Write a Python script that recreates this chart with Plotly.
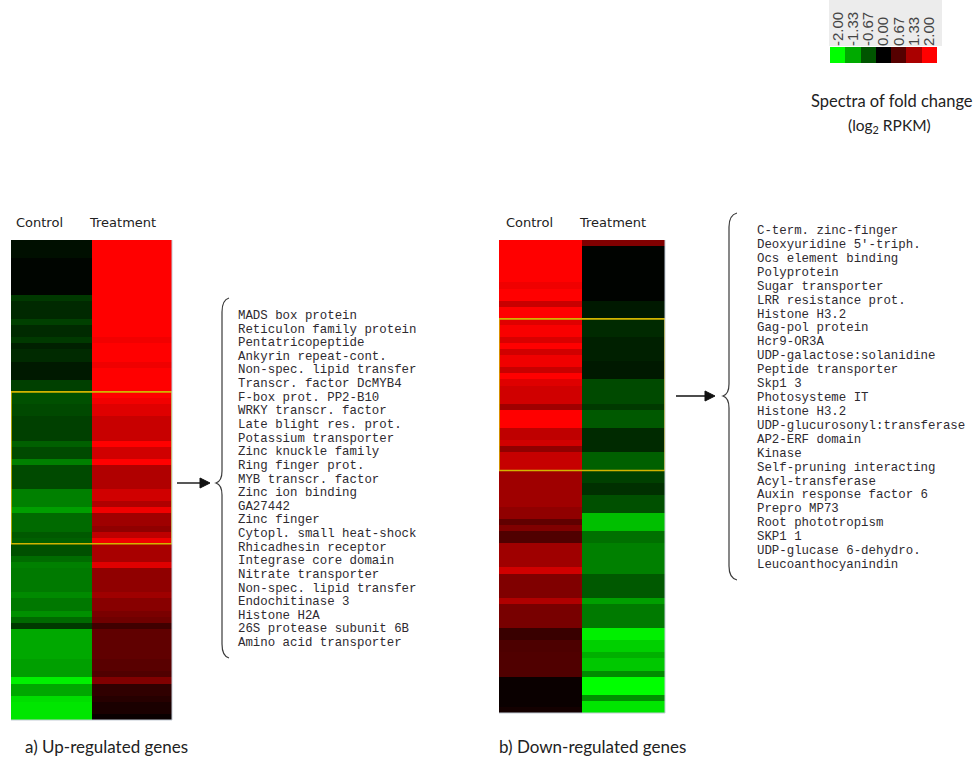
import plotly.graph_objects as go

# ---- data -------------------------------------------------------------
COLUMNS = ["Control", "Treatment"]

# log2 fold change per gene row (top to bottom), up-regulated panel
UP_CONTROL = [
    -0.12, -0.12, -0.12, -0.04, -0.04, -0.04, -0.04, -0.04, -0.04,
    -0.45, -0.32, -0.32, -0.32, -0.50, -0.33, -0.33, -0.45, -0.25, -0.33,
    -0.33, -0.20, -0.20, -0.20, -0.50, -0.50,
    -0.63, -0.63, -0.57, -0.57, -0.50, -0.50, -0.50, -0.50, -0.75, -0.58,
    -0.58, -1.00, -0.58, -0.58, -0.58, -0.58, -1.00, -1.00, -1.00, -1.25,
    -0.83, -0.83, -0.83, -0.70, -0.75,
    -0.63, -0.63, -0.85, -1.00, -0.96, -0.96, -0.96, -0.96, -1.08, -0.94,
    -0.94, -1.13, -0.83, -0.45, -1.32, -1.32, -1.32, -1.32, -1.32, -1.25,
    -1.25, -1.25, -1.90, -1.32, -1.32, -1.75, -1.80, -1.80, -1.80,
]
UP_TREATMENT = [
    2.0, 2.0, 2.0, 2.0, 2.0, 2.0, 2.0, 2.0, 2.0, 2.0, 2.0, 2.0, 2.0, 2.0, 2.0, 2.0,
    1.90, 2.0, 2.0, 2.0, 1.88, 2.0, 2.0, 2.0, 2.0,
    2.0, 1.90, 1.75, 1.75, 1.57, 1.57, 1.57, 1.57, 2.0, 1.63,
    1.63, 2.0, 1.38, 1.38, 1.38, 1.38, 1.63, 1.63, 1.38, 1.88,
    1.25, 1.25, 1.13, 1.50, 1.88,
    1.32, 1.32, 1.32, 1.75, 1.13, 1.13, 1.13, 1.13, 1.25, 1.07,
    1.07, 0.96, 0.88, 0.50, 0.75, 0.75, 0.75, 0.75, 0.75, 0.70,
    0.70, 0.63, 1.00, 0.38, 0.38, 0.30, 0.20, 0.20, 0.07,
]

# down-regulated panel
DOWN_CONTROL = [
    2.0, 2.0, 2.0, 2.0, 2.0, 2.0, 2.0, 1.88, 2.0, 2.0,
    1.57, 2.0, 2.0, 1.75, 1.95, 1.95, 1.70, 2.0, 1.63, 1.88,
    1.88, 1.57, 2.0, 1.75, 1.63, 1.63, 1.63, 1.25, 2.0, 2.0,
    2.0, 1.50, 1.50, 1.63, 1.13, 1.55, 1.55, 1.55, 1.25, 1.25,
    1.25, 1.25, 1.25, 1.25, 1.13, 1.13, 0.75, 1.00, 0.63, 0.63,
    1.25, 1.25, 1.25, 1.25, 1.63, 1.00, 1.00, 1.00, 1.00, 1.38,
    0.94, 0.94, 0.94, 0.94, 0.45, 0.45, 0.60, 0.60, 0.63, 0.63,
    0.63, 0.63, 0.08, 0.08, 0.08, 0.08, 0.08, 0.15,
]
DOWN_TREATMENT = [
    1.00, -0.02, -0.02, -0.02, -0.02, -0.02, -0.02, -0.02, -0.02, -0.02,
    -0.20, -0.20, -0.20, -0.33, -0.33, -0.33, -0.25, -0.25, -0.25, -0.25,
    -0.20, -0.20, -0.20, -0.58, -0.58, -0.58, -0.58, -0.45, -0.70, -0.70,
    -0.70, -0.33, -0.33, -0.33, -0.33, -0.75, -0.75, -0.75, -0.50, -0.50,
    -0.38, -0.38, -0.63, -0.63, -0.63, -1.50, -1.50, -1.50, -0.88, -0.88,
    -1.00, -1.00, -1.00, -1.00, -1.00, -0.70, -0.70, -0.70, -0.70, -1.25,
    -0.96, -0.96, -0.96, -0.96, -1.88, -1.88, -1.63, -1.63, -1.38, -1.57,
    -1.57, -1.10, -2.00, -2.00, -2.00, -1.13, -1.80, -1.80,
]

# highlighted block (first row index, number of rows) in each panel
UP_BLOCK = (25, 25)
DOWN_BLOCK = (13, 25)

UP_GENES = [
    "MADS box protein", "Reticulon family protein", "Pentatricopeptide",
    "Ankyrin repeat-cont.", "Non-spec. lipid transfer", "Transcr. factor DcMYB4",
    "F-box prot. PP2-B10", "WRKY transcr. factor", "Late blight res. prot.",
    "Potassium transporter", "Zinc knuckle family", "Ring finger prot.",
    "MYB transcr. factor", "Zinc ion binding", "GA27442", "Zinc finger",
    "Cytopl. small heat-shock", "Rhicadhesin receptor", "Integrase core domain",
    "Nitrate transporter", "Non-spec. lipid transfer", "Endochitinase 3",
    "Histone H2A", "26S protease subunit 6B", "Amino acid transporter",
]
DOWN_GENES = [
    "C-term. zinc-finger", "Deoxyuridine 5'-triph.", "Ocs element binding",
    "Polyprotein", "Sugar transporter", "LRR resistance prot.", "Histone H3.2",
    "Gag-pol protein", "Hcr9-OR3A", "UDP-galactose:solanidine",
    "Peptide transporter", "Skp1 3", "Photosysteme IT", "Histone H3.2",
    "UDP-glucurosonyl:transferase", "AP2-ERF domain", "Kinase",
    "Self-pruning interacting", "Acyl-transferase", "Auxin response factor 6",
    "Prepro MP73", "Root phototropism", "SKP1 1", "UDP-glucase 6-dehydro.",
    "Leucoanthocyanindin",
]

SCALE_VALUES = [-2.00, -1.33, -0.67, 0.00, 0.67, 1.33, 2.00]
SCALE_LABELS = ["-2.00", "-1.33", "-0.67", "0.00", "0.67", "1.33", "2.00"]

# ---- layout helpers -----------------------------------------------------
W, H = 977, 773


def px(x):
    return x / W


def py(y):
    return 1 - y / H


GREEN_BLACK_RED = [[0.0, "rgb(0,255,0)"], [0.5, "rgb(0,0,0)"], [1.0, "rgb(255,0,0)"]]
TEXT = "#2e2a30"
HUMANIST = "Lato, Open Sans, sans-serif"

fig = go.Figure()


def panel_heatmap(ctrl, treat, xa, ya):
    return go.Heatmap(
        z=[[c, t] for c, t in zip(ctrl, treat)],
        x=[0, 1],
        y=list(range(len(ctrl))),
        colorscale=GREEN_BLACK_RED, zmin=-2, zmax=2,
        showscale=False, hoverinfo="skip",
        xaxis=xa, yaxis=ya,
    )


fig.add_trace(panel_heatmap(UP_CONTROL, UP_TREATMENT, "x", "y"))
fig.add_trace(panel_heatmap(DOWN_CONTROL, DOWN_TREATMENT, "x2", "y2"))

# colour key
fig.add_trace(go.Heatmap(
    z=[SCALE_VALUES], x=list(range(len(SCALE_VALUES))), y=[0],
    colorscale=GREEN_BLACK_RED, zmin=-2, zmax=2,
    showscale=False, hoverinfo="skip", xaxis="x3", yaxis="y3",
))

hidden = dict(visible=False, showgrid=False, zeroline=False, fixedrange=True)

fig.update_layout(
    width=W, height=H,
    margin=dict(l=0, r=0, t=0, b=0),
    paper_bgcolor="white", plot_bgcolor="white",
    showlegend=False,
    xaxis=dict(domain=[px(11), px(172)], range=[-0.5, 1.5], anchor="y", **hidden),
    yaxis=dict(domain=[py(720), py(240)], range=[len(UP_CONTROL) - 0.5, -0.5],
               anchor="x", **hidden),
    xaxis2=dict(domain=[px(499), px(665)], range=[-0.5, 1.5], anchor="y2", **hidden),
    yaxis2=dict(domain=[py(713), py(240)], range=[len(DOWN_CONTROL) - 0.5, -0.5],
                anchor="x2", **hidden),
    xaxis3=dict(domain=[px(830), px(937)], range=[-0.5, len(SCALE_VALUES) - 0.5],
                anchor="y3", side="top", tickmode="array",
                tickvals=list(range(len(SCALE_VALUES))), ticktext=SCALE_LABELS,
                tickangle=-90, ticks="", showgrid=False, zeroline=False,
                showline=False, fixedrange=True, automargin=False,
                tickfont=dict(family="Liberation Sans, Arial, sans-serif",
                              size=15, color="#444")),
    yaxis3=dict(domain=[py(63), py(47)], anchor="x3", **hidden),
)

shapes = []
# grey panel behind the colour-key labels
shapes.append(dict(type="rect", xref="paper", yref="paper",
                   x0=px(829), x1=px(942), y0=py(46), y1=py(0),
                   fillcolor="#ececec", line=dict(width=0), layer="below"))

# highlighted blocks
for (start, n), xa, ya in [(UP_BLOCK, "x", "y"), (DOWN_BLOCK, "x2", "y2")]:
    shapes.append(dict(type="rect", xref=xa, yref=ya,
                       x0=-0.5, x1=1.5, y0=start - 0.5, y1=start + n - 0.5,
                       line=dict(color="#d2b400", width=1.6)))

# faint frame on right and bottom of each heat map
for x0, x1, y0, y1 in [(11, 172, 240, 720), (499, 665, 240, 713)]:
    shapes.append(dict(type="path", xref="paper", yref="paper",
                       path=f"M {px(x1)} {py(y0)} L {px(x1)} {py(y1)} L {px(x0)} {py(y1)}",
                       line=dict(color="#c4ccd6", width=1)))


def to_path(pts):
    parts = []
    for cmd, *coords in pts:
        parts.append(cmd + " " + " ".join(f"{px(a):.5f},{py(b):.5f}" for a, b in coords))
    return " ".join(parts)


def brace(xt, x_line, x_tip, y_top, y_mid, y_bot):
    return to_path([
        ("M", (xt, y_top)),
        ("Q", (x_line, y_top + 2), (x_line, y_top + 14)),
        ("L", (x_line, y_mid - 12)),
        ("Q", (x_line, y_mid - 2), (x_tip, y_mid)),
        ("Q", (x_line, y_mid + 2), (x_line, y_mid + 12)),
        ("L", (x_line, y_bot - 14)),
        ("Q", (x_line, y_bot - 2), (xt, y_bot)),
    ])


for args in [(229, 222, 216, 298, 483, 658), (737, 729, 723, 213, 396, 580)]:
    shapes.append(dict(type="path", xref="paper", yref="paper", path=brace(*args),
                       line=dict(color="#3a3a3a", width=1.2)))

# arrows pointing to the braces
for x_tail, x_head, y in [(177, 210, 483), (676, 715, 396)]:
    shapes.append(dict(type="line", xref="paper", yref="paper",
                       x0=px(x_tail), x1=px(x_head - 6), y0=py(y), y1=py(y),
                       line=dict(color="#111", width=1.4)))
    shapes.append(dict(type="path", xref="paper", yref="paper",
                       path=to_path([("M", (x_head - 10, y - 5)), ("L", (x_head, y)),
                                     ("L", (x_head - 10, y + 5))]) + " Z",
                       fillcolor="#111", line=dict(color="#111", width=1)))

fig.update_layout(shapes=shapes)

ann = []
# column headers
for centres in [(39, 123), (529, 612)]:
    for name, cx in zip(COLUMNS, centres):
        ann.append(dict(text=name, xref="paper", yref="paper", x=px(cx), y=py(222),
                        showarrow=False, xanchor="center", yanchor="middle",
                        font=dict(family="DejaVu Sans, sans-serif", size=13, color="#222")))

# gene labels
for genes, x0, y0, dy, size in [(UP_GENES, 236, 316, 13.625, 12.4),
                                (DOWN_GENES, 755, 231, 13.92, 12.4)]:
    for i, g in enumerate(genes):
        ann.append(dict(text=g, xref="paper", yref="paper", x=px(x0), y=py(y0 + i * dy),
                        showarrow=False, xanchor="left", yanchor="middle",
                        font=dict(family="Liberation Mono, DejaVu Sans Mono, monospace",
                                  size=size, color=TEXT)))

# panel captions
for txt, x in [("a) Up-regulated genes", 23), ("b) Down-regulated genes", 497)]:
    ann.append(dict(text=txt, xref="paper", yref="paper", x=px(x), y=py(746),
                    showarrow=False, xanchor="left", yanchor="middle",
                    font=dict(family=HUMANIST, size=17, color="#222")))

# colour key caption
ann.append(dict(text="Spectra of fold change", xref="paper", yref="paper",
                x=px(892), y=py(101), showarrow=False, xanchor="center", yanchor="middle",
                font=dict(family=HUMANIST, size=16.5, color="#222")))
ann.append(dict(text="(log<sub>2</sub> RPKM)", xref="paper", yref="paper",
                x=px(889), y=py(126), showarrow=False, xanchor="center", yanchor="middle",
                font=dict(family=HUMANIST, size=15.5, color="#222")))

fig.update_layout(annotations=ann)

fig.write_html("out.html")
